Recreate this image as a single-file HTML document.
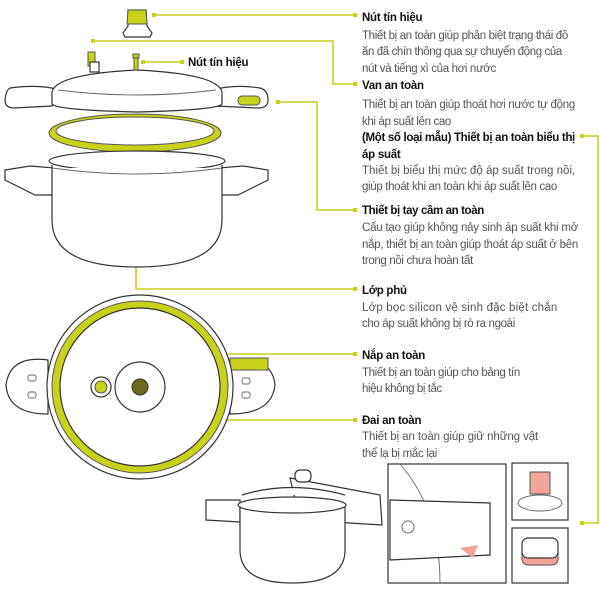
<!DOCTYPE html>
<html><head><meta charset="utf-8"><style>
body{margin:0;background:#fff}
svg{display:block}
text{font-family:"Liberation Sans",sans-serif;font-size:11.5px;fill:#555;letter-spacing:-0.25px}
.t{font-weight:bold;fill:#111}
.l{stroke:#c9d21b;stroke-width:1.6;fill:none}
.d{fill:#c9d21b}
.o{fill:#fff;stroke:#333;stroke-width:1.2}
.y{fill:#c9d21b;stroke:#555;stroke-width:1}
.g{fill:#fff;stroke:#666;stroke-width:0.9}
</style></head><body>
<svg width="600" height="600" viewBox="0 0 600 600" xmlns="http://www.w3.org/2000/svg">
<!-- connectors -->
<polyline class="l" points="155,15 355,15"/><rect class="d" x="152" y="13" width="4" height="4"/><rect class="d" x="353" y="13" width="4" height="4"/>
<polyline class="l" points="93,41 333,41 333,84 355,84"/><rect class="d" x="91" y="39" width="4" height="4"/><rect class="d" x="353" y="82" width="4" height="4"/>
<polyline class="l" points="143,62 182,62"/><rect class="d" x="141" y="60" width="4" height="4"/><rect class="d" x="180" y="60" width="4" height="4"/>
<polyline class="l" points="278,102 317,102 317,210 355,210"/><rect class="d" x="276" y="100" width="4" height="4"/><rect class="d" x="353" y="208" width="4" height="4"/>
<polyline class="l" points="136,162 136,289 355,289"/><rect class="d" x="134" y="160" width="4" height="4"/><rect class="d" x="353" y="287" width="4" height="4"/>
<polyline class="l" points="582,136 598,136 598,523 582,523"/><rect class="d" x="580" y="134" width="4" height="4"/><rect class="d" x="580" y="521" width="4" height="4"/>
<polyline class="l" points="140,371 140,354 355,354"/><rect class="d" x="138" y="369" width="4" height="4"/><rect class="d" x="353" y="352" width="4" height="4"/>
<polyline class="l" points="101,403 101,420 355,420"/><rect class="d" x="99" y="401" width="4" height="4"/><rect class="d" x="353" y="418" width="4" height="4"/>

<!-- top cap -->
<path class="o" d="M128,10 L146,10 L147,26 L152,33 L150,37 L125,37 L123,33 L128,26 Z"/>
<path class="y" d="M128,10 L146,10 L147,24 L127,24 Z"/>
<!-- lid -->
<path class="o" d="M10,88 Q6,90 5,100 Q5,108 14,108 L52,106 L60,90 Q40,84 10,88 Z"/>
<path class="o" d="M260,88 Q268,90 268,100 Q268,108 258,108 L215,106 L212,90 Q235,84 260,88 Z"/>
<path class="o" d="M52,92 Q56,74 137,70 Q218,74 222,92 L222,104 Q218,110 137,112 Q56,110 52,104 Z"/>
<path class="g" d="M58,90 Q137,100 216,90"/>
<rect class="y" x="238" y="96" width="22" height="9" rx="4"/>
<rect class="y" x="88" y="52" width="7" height="14"/><rect class="o" x="90" y="62" width="9" height="10"/>
<rect class="y" x="133" y="54" width="6" height="4"/><rect class="y" x="134" y="58" width="4" height="12"/>
<!-- ring -->
<ellipse cx="135" cy="133" rx="86" ry="19" fill="#c9d21b" stroke="#555"/>
<ellipse cx="135" cy="131" rx="79" ry="14" fill="#fff" stroke="#555"/>
<!-- pot -->
<path class="o" d="M5,170 L5,180 L35,195 L55,195 L55,168 L30,166 Z"/>
<path class="o" d="M268,170 L268,180 L238,195 L218,195 L218,168 L243,166 Z"/>
<path class="o" d="M52,165 L52,220 Q52,267 137,267 Q222,267 222,220 L222,165"/>
<ellipse class="o" cx="137" cy="161" rx="88" ry="10"/>
<path class="g" d="M52,168 Q137,180 222,168"/>
<!-- top view -->
<path class="o" d="M48,360 Q10,355 6,385 Q8,414 48,414 Z"/>
<path class="o" d="M230,360 Q272,355 275,385 Q272,414 230,414 Z"/>
<rect x="230" y="358" width="38" height="12" fill="#c9d21b" stroke="#555"/>
<rect class="g" x="28" y="375" width="8" height="6" rx="2"/><rect class="g" x="28" y="392" width="8" height="6" rx="2"/>
<rect class="g" x="242" y="378" width="8" height="6" rx="2"/><rect class="g" x="242" y="392" width="8" height="6" rx="2"/>
<ellipse class="o" cx="140" cy="387" rx="93" ry="92"/>
<ellipse cx="140" cy="387" rx="88" ry="86" fill="#c9d21b" stroke="#555"/>
<ellipse class="o" cx="140" cy="387" rx="80" ry="79"/>
<circle class="o" cx="101" cy="387" r="10"/><circle class="y" cx="101" cy="387" r="6" fill="#b9c01b"/>
<circle class="o" cx="140" cy="387" r="25"/><circle cx="140" cy="387" r="8" fill="#6b6a1e" stroke="#333"/>
<!-- bottom side view -->
<path class="o" d="M206,500 L206,520 L240,522 L240,500 Z"/>
<path class="o" d="M290,478 L380,495 L382,525 L300,520 Z"/>
<rect class="o" x="295" y="470" width="16" height="12" rx="5"/>
<path class="o" d="M242,495 Q290,480 345,495"/>
<path class="o" d="M240,505 L240,550 Q240,583 292,583 Q345,583 345,550 L345,505 Z"/>
<ellipse class="o" cx="292" cy="505" rx="54" ry="8"/>
<rect class="o" x="388" y="464" width="118" height="119"/>
<path class="g" d="M400,464 Q440,510 440,583"/>
<path class="o" d="M390,500 L490,503 L490,555 L390,560 Z"/>
<circle class="g" cx="408" cy="527" r="6"/>
<path d="M460,548 L478,545 L473,558 Z" fill="#f0a49a"/>
<rect class="o" x="512" y="463" width="56" height="57"/>
<ellipse class="g" cx="540" cy="503" rx="22" ry="8"/>
<rect x="530" y="472" width="20" height="22" fill="#f0a49a" stroke="#555"/>
<rect class="o" x="512" y="528" width="56" height="55"/>
<rect x="522" y="540" width="36" height="25" rx="6" fill="#f0a49a" stroke="#555"/>
<rect class="o" x="522" y="538" width="36" height="20" rx="6"/>
<!-- text -->
<text class="t" x="188" y="66">Nút tín hiệu</text>
<text class="t" x="362" y="21">Nút tín hiệu</text>
<text x="362" y="39" textLength="206">Thiết bị an toàn giúp phân biệt trạng thái đồ</text>
<text x="362" y="55" textLength="200">ăn đã chín thông qua sự chuyển động của</text>
<text x="362" y="72" textLength="134">nút và tiếng xì của hơi nước</text>
<text class="t" x="362" y="89">Van an toàn</text>
<text x="362" y="108" textLength="213">Thiết bị an toàn giúp thoát hơi nước tự động</text>
<text x="362" y="125" textLength="89">khi áp suất lên cao</text>
<text class="t" x="362" y="141" textLength="213">(Một số loại mẫu) Thiết bị an toàn biểu thị</text>
<text class="t" x="362" y="158">áp suất</text>
<text x="362" y="174" textLength="213">Thiết bị biểu thị mức độ áp suất trong nồi,</text>
<text x="362" y="190" textLength="195">giúp thoát khi an toàn khi áp suất lên cao</text>
<text class="t" x="362" y="214" textLength="122">Thiết bị tay cầm an toàn</text>
<text x="362" y="231" textLength="216">Cấu tạo giúp không nảy sinh áp suất khi mở</text>
<text x="362" y="248" textLength="216">nắp, thiết bị an toàn giúp thoát áp suất ở bên</text>
<text x="362" y="264" textLength="111">trong nồi chưa hoàn tất</text>
<text class="t" x="362" y="294">Lớp phủ</text>
<text x="362" y="311" textLength="195">Lớp bọc silicon vệ sinh đặc biệt chắn</text>
<text x="362" y="327" textLength="153">cho áp suất không bị rò ra ngoài</text>
<text class="t" x="362" y="359">Nắp an toàn</text>
<text x="362" y="376" textLength="158">Thiết bị an toàn giúp cho bảng tín</text>
<text x="362" y="392" textLength="80">hiệu không bị tắc</text>
<text class="t" x="362" y="424">Đai an toàn</text>
<text x="362" y="440" textLength="176">Thiết bị an toàn giúp giữ những vật</text>
<text x="362" y="457" textLength="75">thể lạ bị mắc lại</text>
</svg>
</body></html>
